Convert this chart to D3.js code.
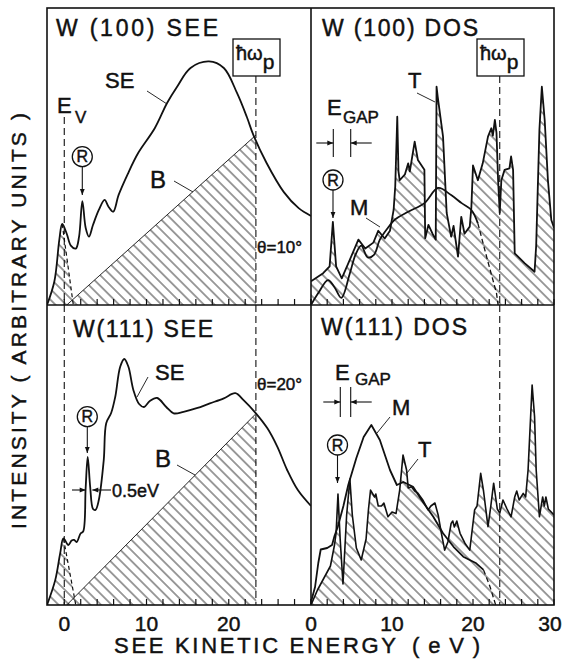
<!DOCTYPE html>
<html>
<head>
<meta charset="utf-8">
<script src="https://cdn.jsdelivr.net/npm/d3@7/dist/d3.min.js"></script>
<style>
  body { margin: 0; background: #fff; }
  text { font-family: "Liberation Sans", Arial, sans-serif; fill: #111; stroke: #111; stroke-width: 0.45px; }
</style>
</head>
<body>
<svg id="fig" width="564" height="669"></svg>
<script>
// ---------------- data (E in eV, intensity in arb. units 0..100) ----------------
var seeTickLabels = [0, 10, 20];
var dosTickLabels = [0, 10, 20, 30];
var minorTicks = [0, 2, 4, 6, 8, 10, 12, 14, 16, 18, 20, 22, 24, 26, 28, 30];
var plasmonE = 23.3;   // hbar omega_p
var vacuumE = 0;       // E_V

// W(100) SEE
var see100SE = [[-2.1,0],[-1.2,8],[-0.6,22],[-0.25,27.3],[0.3,24],[0.8,20],[1.4,19],[1.8,23],[2.2,35],
  [2.6,26],[3.0,23],[3.5,27],[4.2,32],[4.9,35.4],[5.4,33],[5.95,31.4],[6.6,37],[7.7,44],[8.95,51],
  [11,59.5],[12.5,68],[13.7,73.4],[15.35,79.8],[17.6,82],[19.4,79.8],[21,71.4],[22.2,63.3],[23,57.2],
  [24.6,47.8],[26.7,38],[28.5,32.6],[30,30]];
var see100Ev = [[-0.25,27.3],[1.1,0]];
var see100B = [[0.3,0],[23.3,57.2]];

// W(100) DOS
var dos100T = [[0,8],[1.5,10.7],[2.3,13],[2.7,28],[3.1,13],[3.8,9],[4.6,14],[5.85,22],[6.7,19],[7.7,21],
  [8.3,25],[9.1,22.4],[9.75,25],[10.2,32],[10.4,40],[10.65,63.4],[10.8,45],[10.95,42],[11.6,44],[12,47.7],
  [12.2,45],[12.8,55],[13.2,48.8],[14,45.5],[14.1,22.5],[14.5,27],[15,24],[15.4,22],[15.5,73.5],[15.65,70],
  [16.3,56.7],[16.75,31],[17.3,23],[17.6,26.6],[18.15,16.3],[18.55,29.7],[18.95,24],[19.6,26.4],[19.8,33],
  [20,47],[20.6,42],[21.2,47.7],[21.85,56.7],[22.26,59.5],[22.45,57],[22.7,62.3],[22.9,58],[23.1,42],
  [23.3,31],[23.5,42],[23.9,45.5],[24.5,46],[24.7,50],[24.95,45.5],[25.15,17.4],[26.4,14],[27.6,11.2],
  [27.8,20],[28.2,59],[28.5,73.5],[28.85,62.3],[29.25,42],[29.67,28.6],[30,26]];
var dos100M = [[0,0],[0.9,4],[2.1,8.4],[2.9,6],[3.75,2.4],[4.8,10.7],[5.5,17],[6.2,20],[7,16],[7.8,17],
  [8.5,22],[9.5,26],[10.3,28.6],[12,31.4],[14,34.3],[15.7,39.4],[17.3,37],[18.6,34.3],[19.8,32],[20.6,27.5]];
var dos100Mtail = [[20.6,27.5],[21.8,15],[22.9,4],[23.1,0]];

// W(111) SEE
var see111SE = [[-2.1,0],[-1.1,8.3],[-0.5,17.2],[-0.1,22.2],[0.5,20],[0.9,21.5],[1.2,21.7],[1.5,21],
  [2.0,23.9],[2.3,24.5],[2.6,39],[2.85,49.4],[3.15,39.4],[3.5,32],[3.8,31.7],[4.2,35],[4.8,48.3],
  [5.1,60.6],[5.7,64],[6.2,69.4],[6.8,79.4],[7.3,82],[7.8,79.4],[8.4,71.7],[9.1,67],[9.7,66],[10.4,68],
  [11.3,69],[12.4,66],[13.3,63.9],[14.5,64.4],[16.1,65.6],[17.7,67.2],[19.4,68.9],[20.8,70.6],[21.8,68.3],
  [23.3,63.9],[24.7,58.9],[25.9,52.8],[27.1,45],[28.4,38.3],[30,33]];
var see111Ev = [[-0.1,22.2],[1.4,0]];
var see111B = [[0.3,0],[23.35,63.9]];

// W(111) DOS
var dos111T = [[0,0],[0.8,5],[1.6,9],[2.4,13],[2.9,20],[3.1,24],[3.33,37],[3.6,22],[3.95,7],[4.4,30],
  [4.8,42],[5.1,30],[5.6,19],[6.2,15],[6.8,22],[7.1,32],[7.35,38.3],[7.85,36],[8.0,37],[8.3,33],[8.7,33],
  [9.0,34],[9.5,29.4],[10.0,31],[10.5,30.5],[10.95,38.3],[11.36,50],[11.8,45],[12.0,39],[12.4,39.4],
  [12.8,38],[13.2,37.3],[13.8,35],[14.45,31.7],[14.8,33],[15.3,34],[15.7,30],[16.1,23.9],[16.5,18.3],
  [16.9,21],[17.3,27.2],[17.5,28],[17.7,26],[18.0,28],[18.4,23.9],[19.0,20.6],[19.6,18.3],[20.2,31.7],
  [20.5,33],[20.95,43.9],[21.3,38],[21.85,26.1],[22.2,33],[22.55,40.6],[23.0,32],[23.3,30.6],[23.7,35],
  [24.2,32],[24.7,29.4],[25.15,36],[25.4,38],[25.7,35],[26.2,37.2],[26.5,36],[26.8,45],[27.3,73.3],
  [27.6,62.8],[27.8,45],[28.2,29.4],[28.6,36],[28.8,33],[29.0,36],[29.3,32],[30,30]];
var dos111M = [[0,1],[0.5,6],[0.9,14],[1.2,18.5],[2.0,19],[2.6,20],[2.9,23],[3.3,26],[4,33],[4.6,40],
  [5.6,49],[6.5,56],[7.45,60],[8.5,55],[9.75,45],[10.6,40],[11.4,41],[12.6,39.4],[13.9,34],[15.1,29.4],
  [16.3,23.9],[17.6,19.4],[18.8,16.1],[20.4,13.9],[21.3,11.7]];
var dos111Mtail = [[21.3,11.7],[22.1,6.1],[22.8,0]];

// ---------------- layout ----------------
var svg = d3.select("#fig");
var frame = {left: 47, mid: 311, right: 554, top: 8, midY: 305, bottom: 605};

var xSee = d3.scaleLinear().domain([-2.1, 30]).range([frame.left, frame.mid]);
var xDos = d3.scaleLinear().domain([0, 30]).range([frame.mid, frame.right]);
var yTop = d3.scaleLinear().domain([0, 100]).range([frame.midY, frame.top]);
var yBot = d3.scaleLinear().domain([0, 100]).range([frame.bottom, frame.midY]);

var defs = svg.append("defs");
var hatch = defs.append("pattern").attr("id", "hatch")
  .attr("patternUnits", "userSpaceOnUse").attr("width", 7.5).attr("height", 7.5)
  .attr("patternTransform", "rotate(-45)");
hatch.append("line").attr("x1", 3.75).attr("y1", -1).attr("x2", 3.75).attr("y2", 8.5)
  .attr("stroke", "#1a1a1a").attr("stroke-width", 0.85);

var panels = [
  {id: "p1", x: xSee, y: yTop},
  {id: "p2", x: xDos, y: yTop},
  {id: "p3", x: xSee, y: yBot},
  {id: "p4", x: xDos, y: yBot}
];
panels.forEach(function(p) {
  var r0 = p.x.range(), r1 = p.y.range();
  defs.append("clipPath").attr("id", "clip-" + p.id).append("rect")
    .attr("x", r0[0]).attr("y", r1[1]).attr("width", r0[1] - r0[0]).attr("height", r1[0] - r1[1]);
  p.g = svg.append("g").attr("clip-path", "url(#clip-" + p.id + ")");
});

function lineGen(p, curve) {
  return d3.line().x(function(d) { return p.x(d[0]); }).y(function(d) { return p.y(d[1]); })
    .curve(curve || d3.curveLinear);
}
function areaGen(p) {
  return d3.area().x(function(d) { return p.x(d[0]); }).y0(p.y(0)).y1(function(d) { return p.y(d[1]); });
}
function hatchArea(p, pts) {
  p.g.append("path").datum(pts).attr("d", areaGen(p)).attr("fill", "url(#hatch)");
}
function curve(p, pts, w, dash, c) {
  p.g.append("path").datum(pts).attr("d", lineGen(p, c)).attr("fill", "none")
    .attr("stroke", "#111").attr("stroke-width", w).attr("stroke-dasharray", dash || null)
    .attr("stroke-linejoin", "round");
}
function vdash(p, E, yFrom) {
  p.g.append("line").attr("x1", p.x(E)).attr("x2", p.x(E))
    .attr("y1", yFrom).attr("y2", p.y.range()[0])
    .attr("stroke", "#111").attr("stroke-width", 1.1).attr("stroke-dasharray", "7,4");
}

var smooth = d3.curveCatmullRom.alpha(0.5);

// --- W(100) SEE
var P = panels[0];
hatchArea(P, see100B);
curve(P, see100B, 0.9);
hatchArea(P, see100SE.filter(function(d) { return d[0] <= see100Ev[0][0]; }).concat([see100Ev[1]]));
curve(P, see100Ev, 1.2, "4,3");
vdash(P, vacuumE, 117);
vdash(P, plasmonE, 76);
curve(P, see100SE, 1.8, null, smooth);

// --- W(100) DOS
P = panels[1];
hatchArea(P, dos100T);
vdash(P, plasmonE, 76);
curve(P, dos100Mtail, 1.3, "5,3");
curve(P, dos100M, 1.8, null, smooth);
curve(P, dos100T, 1.8);

// --- W(111) SEE
P = panels[2];
hatchArea(P, see111B);
curve(P, see111B, 0.9);
hatchArea(P, see111SE.filter(function(d) { return d[0] <= see111Ev[0][0]; }).concat([see111Ev[1]]));
curve(P, see111Ev, 1.2, "4,3");
vdash(P, vacuumE, frame.midY);
vdash(P, plasmonE, frame.midY);
curve(P, see111SE, 1.8, null, smooth);

// --- W(111) DOS
P = panels[3];
hatchArea(P, dos111T);
vdash(P, plasmonE, frame.midY);
curve(P, dos111Mtail, 1.3, "5,3");
curve(P, dos111M, 1.8);
curve(P, dos111T, 1.6);

// ---------------- frame, ticks ----------------
var axisG = svg.append("g");
axisG.append("rect").attr("x", frame.left).attr("y", frame.top)
  .attr("width", frame.right - frame.left).attr("height", frame.bottom - frame.top)
  .attr("fill", "none").attr("stroke", "#111").attr("stroke-width", 1.6);
axisG.append("line").attr("x1", frame.mid).attr("x2", frame.mid).attr("y1", frame.top).attr("y2", frame.bottom)
  .attr("stroke", "#111").attr("stroke-width", 1.6);
axisG.append("line").attr("x1", frame.left).attr("x2", frame.right).attr("y1", frame.midY).attr("y2", frame.midY)
  .attr("stroke", "#111").attr("stroke-width", 1.6);

panels.forEach(function(p) {
  var y0 = p.y.range()[0];
  axisG.selectAll(null).data(minorTicks).enter().append("line")
    .attr("x1", function(d) { return p.x(d); }).attr("x2", function(d) { return p.x(d); })
    .attr("y1", y0).attr("y2", y0 - 6)
    .attr("stroke", "#111").attr("stroke-width", 1.2);
});

axisG.selectAll(null).data(seeTickLabels).enter().append("text")
  .attr("x", function(d) { return xSee(d); }).attr("y", 631)
  .attr("text-anchor", "middle").attr("font-size", 21).text(function(d) { return d; });
axisG.selectAll(null).data(dosTickLabels).enter().append("text")
  .attr("x", function(d, i) { return xDos(d) - (i === dosTickLabels.length - 1 ? 4 : 0); }).attr("y", 631)
  .attr("text-anchor", "middle").attr("font-size", 21).text(function(d) { return d; });

axisG.append("text").attr("x", 114).attr("y", 653).attr("font-size", 22)
  .attr("textLength", 282).attr("lengthAdjust", "spacing").text("SEE KINETIC ENERGY");
axisG.append("text").attr("x", 412).attr("y", 653).attr("font-size", 22)
  .attr("textLength", 68).attr("lengthAdjust", "spacing").text("(eV)");
axisG.append("text").attr("transform", "translate(26,321) rotate(-90)")
  .attr("text-anchor", "middle").attr("font-size", 21)
  .attr("textLength", 416).attr("lengthAdjust", "spacing").text("INTENSITY ( ARBITRARY UNITS )");

// ---------------- annotations ----------------
var ann = svg.append("g");
function label(x, y, s, size, len) {
  var t = ann.append("text").attr("x", x).attr("y", y).attr("font-size", size).text(s);
  if (len) t.attr("textLength", len).attr("lengthAdjust", "spacing");
  return t;
}
function seg(x1, y1, x2, y2, w, dash) {
  ann.append("line").attr("x1", x1).attr("y1", y1).attr("x2", x2).attr("y2", y2)
    .attr("stroke", "#111").attr("stroke-width", w || 1).attr("stroke-dasharray", dash || null);
}
function arrow(x1, y1, x2, y2) {
  seg(x1, y1, x2, y2, 1.1);
  var a = Math.atan2(y2 - y1, x2 - x1), L = 6, W = 2.4;
  var pts = [[x2, y2],
    [x2 - L * Math.cos(a) + W * Math.sin(a), y2 - L * Math.sin(a) - W * Math.cos(a)],
    [x2 - L * Math.cos(a) - W * Math.sin(a), y2 - L * Math.sin(a) + W * Math.cos(a)]];
  ann.append("path").attr("d", "M" + pts.join("L") + "Z").attr("fill", "#111");
}
function rMark(cx, cy, yTip) {
  ann.append("circle").attr("cx", cx).attr("cy", cy).attr("r", 10)
    .attr("fill", "#fff").attr("stroke", "#111").attr("stroke-width", 1.3);
  ann.append("text").attr("x", cx).attr("y", cy + 5.5).attr("text-anchor", "middle")
    .attr("font-size", 16).text("R");
  arrow(cx, cy + 10, cx, yTip);
}
function plasmonBox(x, y) {
  ann.append("rect").attr("x", x).attr("y", y).attr("width", 47).attr("height", 37)
    .attr("fill", "#fff").attr("stroke", "#111").attr("stroke-width", 1.3);
  var t = ann.append("text").attr("x", x + 3).attr("y", y + 21).attr("font-size", 20);
  t.append("tspan").text("\u0127\u03c9");
  t.append("tspan").attr("dy", 9).attr("font-size", 21).text("p");
}
function gapMark(xa, xb, y0, y1) {
  seg(xa, y0, xa, y1, 1.1);
  seg(xb, y0, xb, y1, 1.1);
  var ym = (y0 + y1) / 2;
  arrow(xa - 17, ym, xa, ym);
  arrow(xb + 21, ym, xb, ym);
}

// W(100) SEE
label(56, 36, "W (100) SEE", 23, 162);
plasmonBox(233, 39);
label(105, 88, "SE", 22);
seg(147, 91, 167, 104, 0.9);
label(57, 113, "E", 22);
label(75, 123, "V", 17);
rMark(82.3, 156.7, 195);
label(150, 188, "B", 24);
seg(174, 181, 193, 192, 0.9);
label(257, 253, "\u03b8=10\u00b0", 17);

// W(100) DOS
label(322, 36, "W (100) DOS", 23, 156);
plasmonBox(477, 39);
label(408, 88, "T", 22);
seg(417, 93, 435, 102, 0.9);
label(327, 115, "E", 22);
label(343, 123, "GAP", 17);
gapMark(333.3, 350.7, 129, 157);
rMark(333, 180, 218);
label(350, 215, "M", 22);
seg(366, 218, 380, 227, 0.9);

// W(111) SEE
label(73, 337, "W(111) SEE", 23, 140);
label(155, 380, "SE", 22);
seg(148, 377, 137, 397, 0.9);
label(257, 390, "\u03b8=20\u00b0", 17);
rMark(87.3, 416.7, 453);
arrow(72, 490, 85.7, 490);
arrow(111, 490, 92.3, 490);
label(112, 497, "0.5eV", 18);
label(155, 467, "B", 24);
seg(177, 465, 195, 475, 0.9);

// W(111) DOS
label(321, 335, "W(111) DOS", 23, 146);
label(335, 380, "E", 22);
label(355, 385, "GAP", 17);
gapMark(340.3, 350.7, 387, 417);
label(392, 415, "M", 22);
seg(390, 417, 377, 433, 0.9);
label(418, 457, "T", 22);
seg(418, 459, 407, 473, 0.9);
rMark(337.5, 445, 483);
</script>
</body>
</html>
